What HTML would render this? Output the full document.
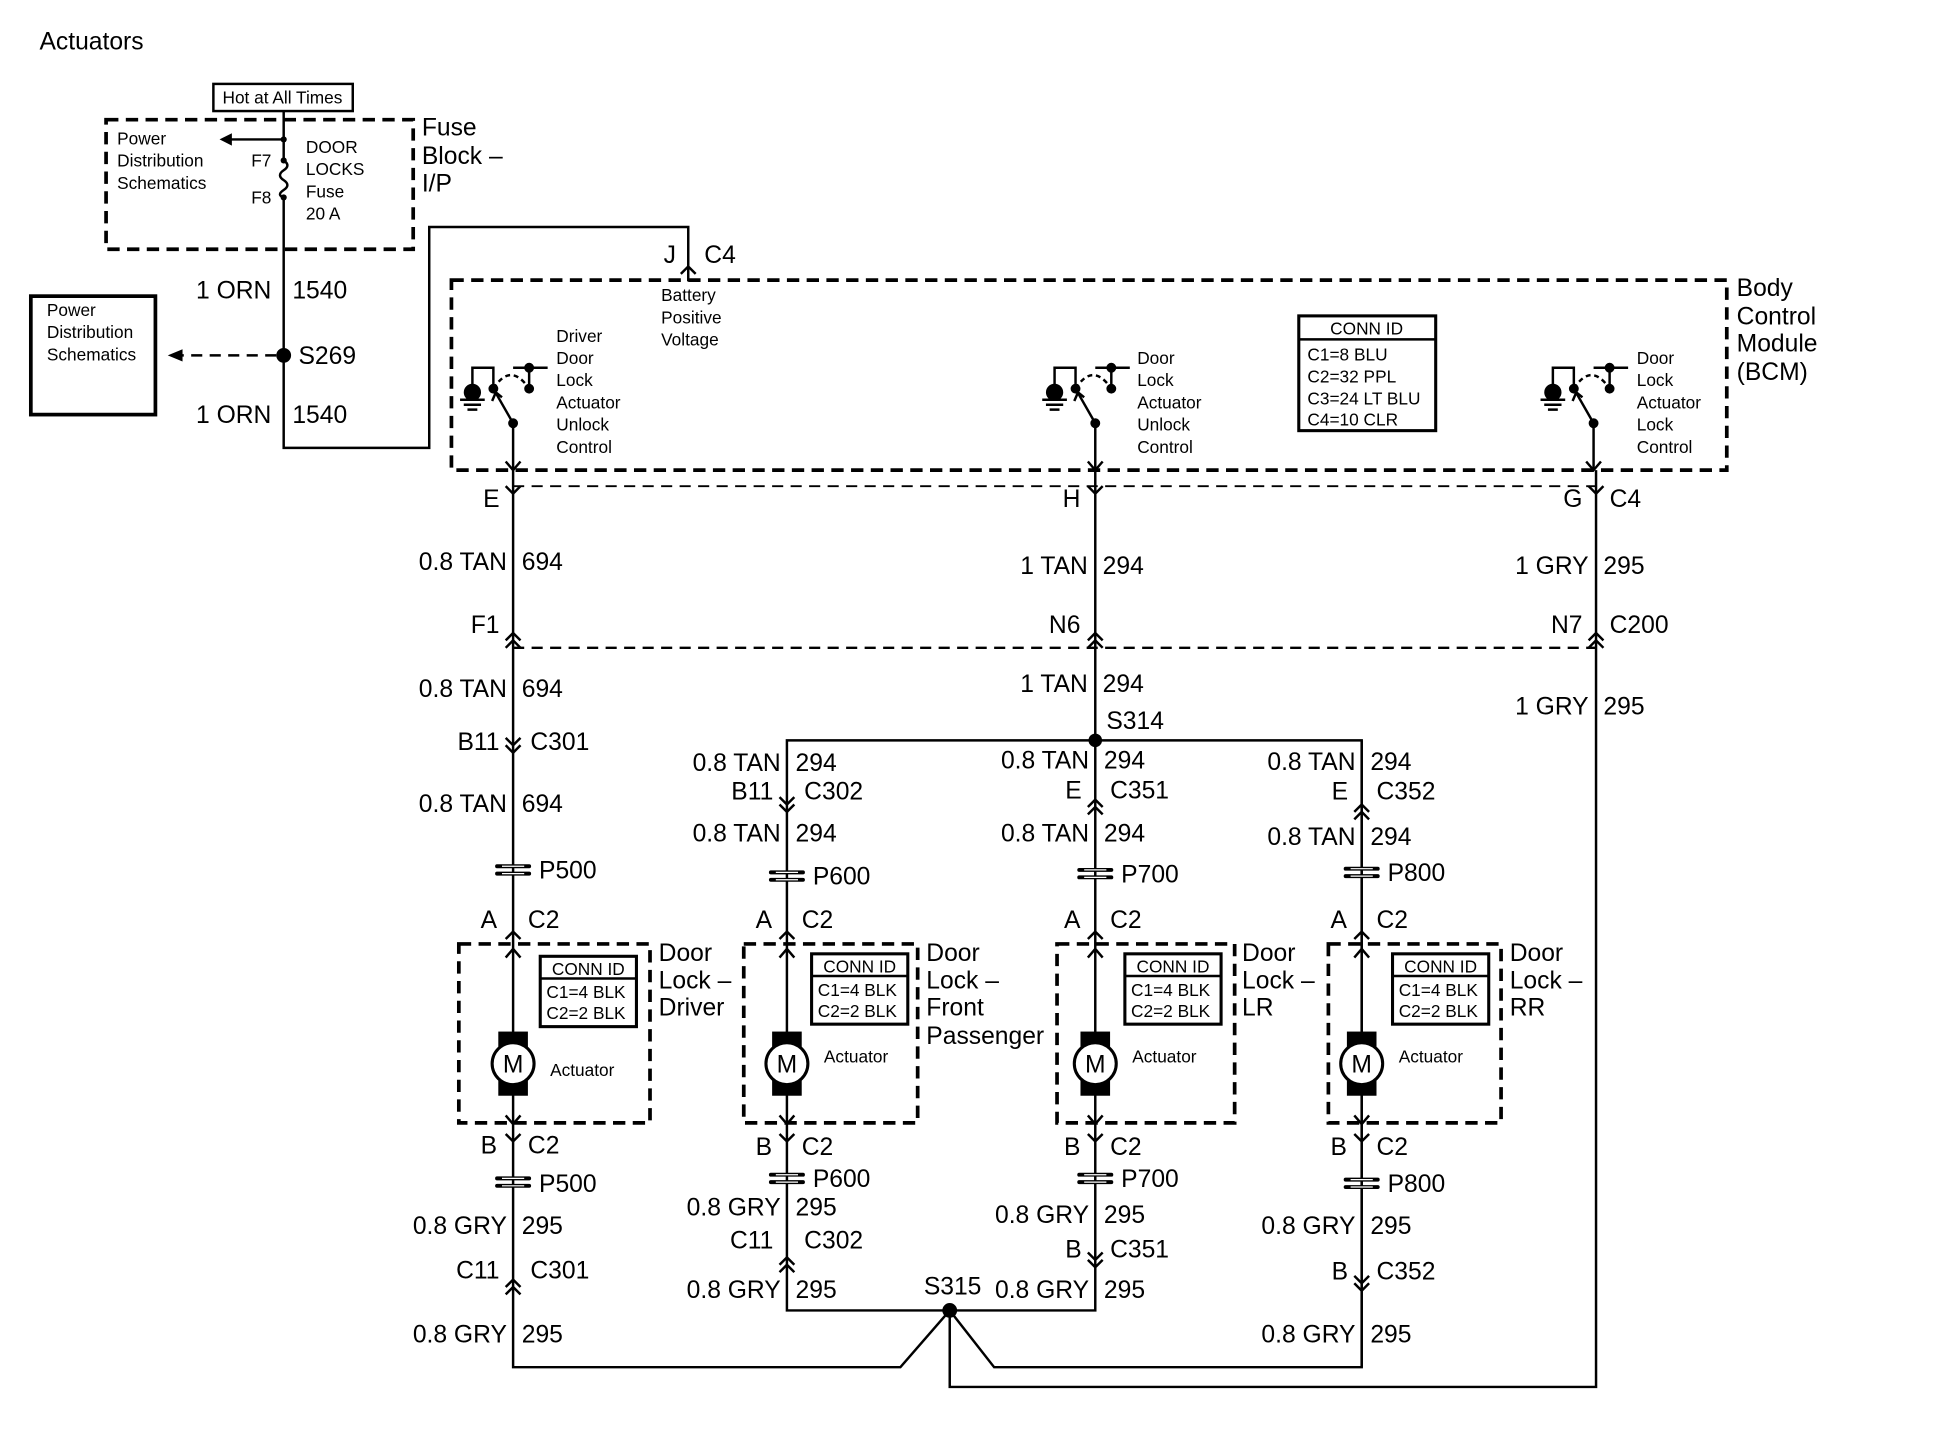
<!DOCTYPE html>
<html><head><meta charset="utf-8"><style>
html,body{margin:0;padding:0;background:#fff;}
svg{display:block;}
text{font-family:"Liberation Sans",Arial,sans-serif;fill:#000;}
.b{font-size:20px;}
.s{font-size:14px;}
.r{text-anchor:end;}
.m{text-anchor:middle;}
</style></head><body>
<svg width="1934" height="1440" viewBox="0 0 1568 1167" preserveAspectRatio="none" xmlns="http://www.w3.org/2000/svg">
<defs>
<g id="du"><path d="M-6 3 L0 -3 L6 3 M-6 9 L0 3 L6 9" fill="none" stroke="#000" stroke-width="2"/></g>
<g id="dd"><path d="M-6 -9 L0 -3 L6 -9 M-6 -3 L0 3 L6 -3" fill="none" stroke="#000" stroke-width="2"/></g>
<g id="fy"><path d="M-6 -6 L0 0 L6 -6" fill="none" stroke="#000" stroke-width="2"/></g>
<g id="fa"><path d="M-6 6 L0 0 L6 6" fill="none" stroke="#000" stroke-width="2"/></g>
<g id="pc"><path d="M-13 -3 H13 M-13 3 H13" stroke="#000" stroke-width="3.2" stroke-linecap="round"/><path d="M-9 -3 H9 M-9 3 H9" stroke="#fff" stroke-width="1"/></g>
<g id="mot"><rect x="-12" y="-26" width="24" height="52" fill="#000"/><circle r="17" fill="#fff" stroke="#000" stroke-width="2.5"/><text y="7" class="b m" style="font-size:20px">M</text></g>
<g id="sw" fill="none" stroke="#000" stroke-width="2">
<path d="M-33 315 V298 H-16 V315 M0 298 H28 M13 298 V315 M-16 315 L0 343 V381"/>
<path d="M-16 315 Q-2 293 13 315" stroke-dasharray="4 3"/>
<path d="M-6 374 L0 381 L6 374"/>
<path d="M-17 325 L-14 318 L-9 322"/>
<circle cx="-33" cy="318" r="6" fill="#000"/>
<path d="M-43 324 H-23 M-40 328 H-26 M-37 332 H-29"/>
<circle cx="-16" cy="315" r="3" fill="#000"/><circle cx="13" cy="298" r="3" fill="#000"/><circle cx="13" cy="315" r="3" fill="#000"/><circle cx="0" cy="343" r="3" fill="#000"/>
</g>
</defs>

<text x="32" y="40" class="b">Actuators</text>

<!-- fuse block -->
<rect x="173" y="68" width="113" height="22" fill="none" stroke="#000" stroke-width="2"/>
<text x="229" y="84" class="s m">Hot at All Times</text>
<rect x="86" y="97" width="249" height="105" fill="none" stroke="#000" stroke-width="3" stroke-dasharray="10 6"/>
<path d="M230 90 V130 M230 160 V363 H348 V184 H558 V228" fill="none" stroke="#000" stroke-width="2"/>
<path d="M230 113 H184" stroke="#000" stroke-width="2"/><path d="M188 108 L178 113 L188 118 Z"/>
<circle cx="230" cy="113" r="2.5"/>
<path d="M230 130 q6 4 0 8 q-6 4 0 8 q6 4 0 8 q-6 4 0 6" fill="none" stroke="#000" stroke-width="2"/>
<circle cx="230" cy="130" r="2.5"/><circle cx="230" cy="160" r="2.5"/>
<text x="95" y="117" class="s">Power</text><text x="95" y="135" class="s">Distribution</text><text x="95" y="153" class="s">Schematics</text>
<text x="220" y="135" class="s r">F7</text><text x="220" y="165" class="s r">F8</text>
<text x="248" y="124" class="s">DOOR</text><text x="248" y="142" class="s">LOCKS</text><text x="248" y="160" class="s">Fuse</text><text x="248" y="178" class="s">20 A</text>
<text x="342" y="110" class="b">Fuse</text><text x="342" y="133" class="b">Block –</text><text x="342" y="155" class="b">I/P</text>

<text x="220" y="242" class="b r">1 ORN</text><text x="237" y="242" class="b">1540</text>
<circle cx="230" cy="288" r="6"/>
<text x="242" y="295" class="b">S269</text>
<path d="M224 288 H146" stroke="#000" stroke-width="2" stroke-dasharray="9 6"/><path d="M148 283 L136 288 L148 293 Z"/>
<rect x="25" y="240" width="101" height="96" fill="none" stroke="#000" stroke-width="3"/>
<text x="38" y="256" class="s">Power</text><text x="38" y="274" class="s">Distribution</text><text x="38" y="292" class="s">Schematics</text>
<text x="220" y="343" class="b r">1 ORN</text><text x="237" y="343" class="b">1540</text>

<text x="548" y="213" class="b r">J</text><text x="571" y="213" class="b">C4</text>
<use href="#fa" x="558" y="216"/>
<text x="536" y="244" class="s">Battery</text><text x="536" y="262" class="s">Positive</text><text x="536" y="280" class="s">Voltage</text>

<!-- BCM -->
<rect x="366" y="227" width="1034" height="154" fill="none" stroke="#000" stroke-width="3" stroke-dasharray="10 6"/>
<text x="1408" y="240" class="b">Body</text><text x="1408" y="263" class="b">Control</text><text x="1408" y="285" class="b">Module</text><text x="1408" y="308" class="b">(BCM)</text>
<rect x="1053" y="256" width="111" height="93" fill="none" stroke="#000" stroke-width="2.5"/>
<path d="M1053 275 H1164" stroke="#000" stroke-width="2"/>
<text x="1108" y="271" class="s m">CONN ID</text>
<text x="1060" y="292" class="s">C1=8 BLU</text><text x="1060" y="310" class="s">C2=32 PPL</text><text x="1060" y="328" class="s">C3=24 LT BLU</text><text x="1060" y="345" class="s">C4=10 CLR</text>

<use href="#sw" x="416" y="0"/><use href="#sw" x="888" y="0"/><use href="#sw" x="1292" y="0"/>
<text x="451" y="277" class="s">Driver</text><text x="451" y="295" class="s">Door</text><text x="451" y="313" class="s">Lock</text><text x="451" y="331" class="s">Actuator</text><text x="451" y="349" class="s">Unlock</text><text x="451" y="367" class="s">Control</text>
<text x="922" y="295" class="s">Door</text><text x="922" y="313" class="s">Lock</text><text x="922" y="331" class="s">Actuator</text><text x="922" y="349" class="s">Unlock</text><text x="922" y="367" class="s">Control</text>
<text x="1327" y="295" class="s">Door</text><text x="1327" y="313" class="s">Lock</text><text x="1327" y="331" class="s">Actuator</text><text x="1327" y="349" class="s">Lock</text><text x="1327" y="367" class="s">Control</text>

<!-- main wires -->
<g fill="none" stroke="#000" stroke-width="2">
<path d="M416 381 V1108 H730 L770 1062 L806 1108 H1104 V600 H638 V1062 H888 V381"/>
<path d="M1294 381 V1124 H770 V1062"/>
<path d="M1104 600 V1108"/>
<path d="M416 525 H1294" stroke-dasharray="9 6"/>
<path d="M416 394 H1294" stroke-dasharray="9 6" stroke-width="1.5"/>
</g>
<circle cx="888" cy="600" r="5.5"/><circle cx="770" cy="1062" r="6"/>

<!-- connectors top -->
<use href="#fy" x="416" y="400"/><use href="#fy" x="888" y="400"/><use href="#fy" x="1294" y="400"/>
<use href="#du" x="416" y="516"/><use href="#du" x="888" y="516"/><use href="#du" x="1294" y="516"/>

<text x="405" y="411" class="b r">E</text>
<text x="876" y="411" class="b r">H</text>
<text x="1283" y="411" class="b r">G</text><text x="1305" y="411" class="b">C4</text>
<text x="411" y="462" class="b r">0.8 TAN</text><text x="423" y="462" class="b">694</text>
<text x="882" y="465" class="b r">1 TAN</text><text x="894" y="465" class="b">294</text>
<text x="1288" y="465" class="b r">1 GRY</text><text x="1300" y="465" class="b">295</text>
<text x="405" y="513" class="b r">F1</text><text x="876" y="513" class="b r">N6</text>
<text x="1283" y="513" class="b r">N7</text><text x="1305" y="513" class="b">C200</text>
<text x="411" y="565" class="b r">0.8 TAN</text><text x="423" y="565" class="b">694</text>
<text x="882" y="561" class="b r">1 TAN</text><text x="894" y="561" class="b">294</text>
<text x="1288" y="579" class="b r">1 GRY</text><text x="1300" y="579" class="b">295</text>
<text x="897" y="591" class="b">S314</text>

<!-- column 1 -->
<text x="405" y="608" class="b r">B11</text><text x="430" y="608" class="b">C301</text>
<use href="#dd" x="416" y="607"/>
<text x="411" y="658" class="b r">0.8 TAN</text><text x="423" y="658" class="b">694</text>
<use href="#pc" x="416" y="705"/><text x="437" y="712" class="b">P500</text>
<text x="403" y="752" class="b r">A</text><text x="428" y="752" class="b">C2</text>
<use href="#fa" x="416" y="755"/>
<use href="#pc" x="416" y="958"/><text x="437" y="966" class="b">P500</text>
<text x="411" y="1000" class="b r">0.8 GRY</text><text x="423" y="1000" class="b">295</text>
<text x="405" y="1036" class="b r">C11</text><text x="430" y="1036" class="b">C301</text>
<use href="#du" x="416" y="1040"/>
<text x="411" y="1088" class="b r">0.8 GRY</text><text x="423" y="1088" class="b">295</text>

<!-- column 2 -->
<text x="633" y="625" class="b r">0.8 TAN</text><text x="645" y="625" class="b">294</text>
<text x="627" y="648" class="b r">B11</text><text x="652" y="648" class="b">C302</text>
<use href="#dd" x="638" y="655"/>
<text x="633" y="682" class="b r">0.8 TAN</text><text x="645" y="682" class="b">294</text>
<use href="#pc" x="638" y="710"/><text x="659" y="717" class="b">P600</text>
<text x="626" y="752" class="b r">A</text><text x="650" y="752" class="b">C2</text>
<use href="#fa" x="638" y="755"/>
<use href="#pc" x="638" y="955"/><text x="659" y="962" class="b">P600</text>
<text x="633" y="985" class="b r">0.8 GRY</text><text x="645" y="985" class="b">295</text>
<text x="627" y="1012" class="b r">C11</text><text x="652" y="1012" class="b">C302</text>
<use href="#du" x="638" y="1022"/>
<text x="633" y="1052" class="b r">0.8 GRY</text><text x="645" y="1052" class="b">295</text>
<text x="749" y="1049" class="b">S315</text>

<!-- column 3 -->
<text x="883" y="623" class="b r">0.8 TAN</text><text x="895" y="623" class="b">294</text>
<text x="877" y="647" class="b r">E</text><text x="900" y="647" class="b">C351</text>
<use href="#du" x="888" y="651"/>
<text x="883" y="682" class="b r">0.8 TAN</text><text x="895" y="682" class="b">294</text>
<use href="#pc" x="888" y="708"/><text x="909" y="715" class="b">P700</text>
<text x="876" y="752" class="b r">A</text><text x="900" y="752" class="b">C2</text>
<use href="#fa" x="888" y="755"/>
<use href="#pc" x="888" y="955"/><text x="909" y="962" class="b">P700</text>
<text x="883" y="991" class="b r">0.8 GRY</text><text x="895" y="991" class="b">295</text>
<text x="877" y="1019" class="b r">B</text><text x="900" y="1019" class="b">C351</text>
<use href="#dd" x="888" y="1024"/>
<text x="883" y="1052" class="b r">0.8 GRY</text><text x="895" y="1052" class="b">295</text>

<!-- column 4 -->
<text x="1099" y="624" class="b r">0.8 TAN</text><text x="1111" y="624" class="b">294</text>
<text x="1093" y="648" class="b r">E</text><text x="1116" y="648" class="b">C352</text>
<use href="#du" x="1104" y="655"/>
<text x="1099" y="685" class="b r">0.8 TAN</text><text x="1111" y="685" class="b">294</text>
<use href="#pc" x="1104" y="707"/><text x="1125" y="714" class="b">P800</text>
<text x="1092" y="752" class="b r">A</text><text x="1116" y="752" class="b">C2</text>
<use href="#fa" x="1104" y="755"/>
<use href="#pc" x="1104" y="959"/><text x="1125" y="966" class="b">P800</text>
<text x="1099" y="1000" class="b r">0.8 GRY</text><text x="1111" y="1000" class="b">295</text>
<text x="1093" y="1037" class="b r">B</text><text x="1116" y="1037" class="b">C352</text>
<use href="#dd" x="1104" y="1043"/>
<text x="1099" y="1088" class="b r">0.8 GRY</text><text x="1111" y="1088" class="b">295</text>

<!-- actuator boxes -->
<g fill="none" stroke="#000" stroke-width="3" stroke-dasharray="10 6">
<rect x="372" y="765" width="155" height="145"/>
<rect x="603" y="765" width="141" height="145"/>
<rect x="857" y="765" width="144" height="145"/>
<rect x="1077" y="765" width="140" height="145"/>
</g>
<g fill="none" stroke="#000" stroke-width="2">
<path d="M410 776 L416 769 L422 776 M410 904 L416 911 L422 904"/>
<path d="M632 776 L638 769 L644 776 M632 904 L638 911 L644 904"/>
<path d="M882 776 L888 769 L894 776 M882 904 L888 911 L894 904"/>
<path d="M1098 776 L1104 769 L1110 776 M1098 904 L1104 911 L1110 904"/>
</g>
<use href="#fy" x="416" y="925"/><use href="#fy" x="638" y="925"/><use href="#fy" x="888" y="925"/><use href="#fy" x="1104" y="925"/>
<text x="403" y="935" class="b r">B</text><text x="428" y="935" class="b">C2</text>
<text x="626" y="936" class="b r">B</text><text x="650" y="936" class="b">C2</text>
<text x="876" y="936" class="b r">B</text><text x="900" y="936" class="b">C2</text>
<text x="1092" y="936" class="b r">B</text><text x="1116" y="936" class="b">C2</text>

<use href="#mot" x="416" y="862"/><use href="#mot" x="638" y="862"/><use href="#mot" x="888" y="862"/><use href="#mot" x="1104" y="862"/>
<text x="446" y="872" class="s">Actuator</text>
<text x="668" y="861" class="s">Actuator</text>
<text x="918" y="861" class="s">Actuator</text>
<text x="1134" y="861" class="s">Actuator</text>

<g fill="#fff" stroke="#000" stroke-width="2.5">
<rect x="438" y="775" width="78" height="57"/><rect x="658" y="773" width="78" height="57"/>
<rect x="912" y="773" width="78" height="57"/><rect x="1129" y="773" width="78" height="57"/>
</g>
<g stroke="#000" stroke-width="2"><path d="M438 793 H516 M658 791 H736 M912 791 H990 M1129 791 H1207"/></g>
<text x="477" y="790" class="s m">CONN ID</text><text x="443" y="809" class="s">C1=4 BLK</text><text x="443" y="826" class="s">C2=2 BLK</text>
<text x="697" y="788" class="s m">CONN ID</text><text x="663" y="807" class="s">C1=4 BLK</text><text x="663" y="824" class="s">C2=2 BLK</text>
<text x="951" y="788" class="s m">CONN ID</text><text x="917" y="807" class="s">C1=4 BLK</text><text x="917" y="824" class="s">C2=2 BLK</text>
<text x="1168" y="788" class="s m">CONN ID</text><text x="1134" y="807" class="s">C1=4 BLK</text><text x="1134" y="824" class="s">C2=2 BLK</text>

<text x="534" y="779" class="b">Door</text><text x="534" y="801" class="b">Lock –</text><text x="534" y="823" class="b">Driver</text>
<text x="751" y="779" class="b">Door</text><text x="751" y="801" class="b">Lock –</text><text x="751" y="823" class="b">Front</text><text x="751" y="846" class="b">Passenger</text>
<text x="1007" y="779" class="b">Door</text><text x="1007" y="801" class="b">Lock –</text><text x="1007" y="823" class="b">LR</text>
<text x="1224" y="779" class="b">Door</text><text x="1224" y="801" class="b">Lock –</text><text x="1224" y="823" class="b">RR</text>
</svg>
</body></html>
